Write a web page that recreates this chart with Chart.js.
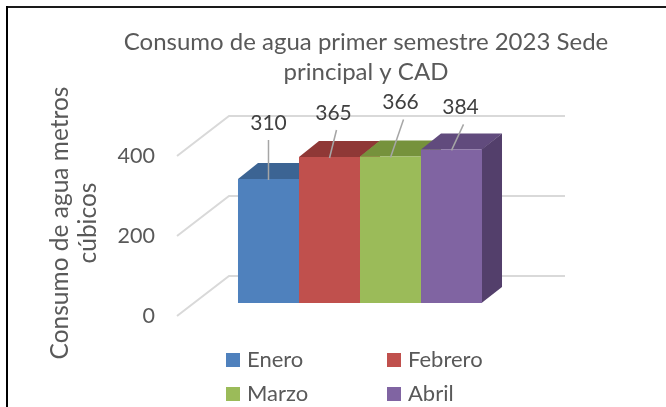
<!DOCTYPE html>
<html>
<head>
<meta charset="utf-8">
<script src="https://cdn.jsdelivr.net/npm/chart.js@4.4.0/dist/chart.umd.min.js"></script>
<style>
  html, body { margin: 0; padding: 0; background: #fff; }
  #wrap { width: 666px; height: 407px; }
</style>
</head>
<body>
<div id="wrap"><canvas id="grafico" width="666" height="407"></canvas></div>
<script>
const meses = ["Enero", "Febrero", "Marzo", "Abril"];
const consumo = [310, 365, 366, 384];
const ticksY = [0, 200, 400];
const titulo = ["Consumo de agua primer semestre 2023 Sede", "principal y CAD"];
const tituloEje = ["Consumo de agua metros", "cúbicos"];

// colores de cada cara del cubo
const frente = ["#4F81BD", "#C0504D", "#9BBB59", "#8064A2"];
const techo = ["#3C6493", "#8F3836", "#76923C", "#614B7D"];
const lado = ["#3A5E8A", "#8A3533", "#6F8A38", "#533F6B"];

// etiqueta de valor: desplazamiento desde la cara superior
const etiquetaDx = [0, 4, 10, 9];
const etiquetaDy = [56, 44, 54, 42];

const FUENTE = "Lato, 'Open Sans', sans-serif";
const GRIS = "#595959";
const PROF_X = 20, PROF_Y = 16; // profundidad de las barras

const paredes = {
  id: "paredes",
  beforeDraw(chart) {
    const ctx = chart.ctx;
    ctx.save();
    ctx.fillStyle = "#1a1a1a";
    ctx.fillRect(6, 6, 660, 2);
    ctx.fillStyle = "#000";
    ctx.fillRect(6, 6, 2, 401);
    // titulo centrado sobre el area del grafico 3D
    ctx.font = "24px " + FUENTE;
    ctx.fillStyle = GRIS;
    ctx.textAlign = "center";
    ctx.textBaseline = "middle";
    titulo.forEach((linea, i) => ctx.fillText(linea, 366, 42 + i * 30));
    ctx.restore();
  },
  beforeDatasetsDraw(chart) {
    const { ctx, chartArea: a, scales: { y } } = chart;
    ctx.save();
    // lineas de la pared del fondo y del lateral
    ctx.strokeStyle = "#D9D9D9";
    ctx.lineWidth = 2;
    ticksY.forEach((v) => {
      const yb = Math.round(y.getPixelForValue(v)) - 27;
      ctx.beginPath();
      ctx.moveTo(a.left - 17, yb + 40);
      ctx.lineTo(a.left + 35, yb);
      ctx.lineTo(a.right + 39, yb);
      ctx.stroke();
    });
    // techo y lado derecho de cada barra, el frente lo pinta Chart.js encima
    chart.data.datasets.forEach((ds, i) => {
      const bar = chart.getDatasetMeta(i).data[0];
      const l = bar.x - bar.width / 2, r = bar.x + bar.width / 2;
      const t = bar.y, b = bar.base;
      ctx.fillStyle = techo[i];
      ctx.beginPath();
      ctx.moveTo(l, t);
      ctx.lineTo(l + PROF_X, t - PROF_Y);
      ctx.lineTo(r + PROF_X, t - PROF_Y);
      ctx.lineTo(r, t);
      ctx.closePath();
      ctx.fill();
      ctx.fillStyle = lado[i];
      ctx.beginPath();
      ctx.moveTo(r - 0.5, t);
      ctx.lineTo(r + PROF_X, t - PROF_Y);
      ctx.lineTo(r + PROF_X, b - PROF_Y);
      ctx.lineTo(r - 0.5, b);
      ctx.closePath();
      ctx.fill();
    });
    ctx.restore();
  },
  afterDatasetsDraw(chart) {
    const ctx = chart.ctx;
    ctx.save();
    ctx.font = "21px " + FUENTE;
    ctx.textAlign = "center";
    ctx.textBaseline = "middle";
    chart.data.datasets.forEach((ds, i) => {
      const bar = chart.getDatasetMeta(i).data[0];
      const lx = bar.x + etiquetaDx[i];
      const ly = bar.y - etiquetaDy[i];
      ctx.strokeStyle = "#A6A6A6";
      ctx.lineWidth = 1.5;
      ctx.beginPath();
      ctx.moveTo(lx + (etiquetaDx[i] > 0 ? 3 : 0), ly + 17);
      ctx.lineTo(bar.x, bar.y + 1);
      ctx.stroke();
      ctx.fillStyle = "#404040";
      ctx.fillText(String(ds.data[0]), lx, ly);
    });
    ctx.restore();
  },
  afterDraw(chart) {
    // leyenda en dos columnas
    const ctx = chart.ctx;
    const colX = [226, 387];
    const filaY = [360, 394];
    ctx.save();
    ctx.font = "22px " + FUENTE;
    ctx.textBaseline = "middle";
    chart.data.datasets.forEach((ds, i) => {
      const x = colX[i % 2], yc = filaY[Math.floor(i / 2)];
      ctx.fillStyle = ds.backgroundColor;
      ctx.fillRect(x, yc - 7, 14, 14);
      ctx.fillStyle = GRIS;
      ctx.fillText(ds.label, x + 21, yc);
    });
    ctx.restore();
  }
};

new Chart(document.getElementById("grafico"), {
  type: "bar",
  data: {
    labels: ["Sede principal y CAD"],
    datasets: meses.map((m, i) => ({
      label: m,
      data: [consumo[i]],
      backgroundColor: frente[i],
      borderWidth: 0,
      categoryPercentage: 0.735,
      barPercentage: 1
    }))
  },
  options: {
    responsive: false,
    animation: false,
    layout: { padding: { left: 8, right: 140, top: 143, bottom: 104 } },
    plugins: {
      legend: { display: false },
      tooltip: { enabled: false },
      title: { display: false }
    },
    scales: {
      x: { display: false },
      y: {
        min: 0,
        max: 400,
        afterBuildTicks: (scale) => { scale.ticks = ticksY.map((v) => ({ value: v })); },
        afterFit: (scale) => { scale.width = 186; },
        border: { display: false },
        grid: { display: false, drawTicks: false },
        ticks: {
          color: GRIS,
          padding: 39,
          labelOffset: 13,
          font: { family: FUENTE, size: 21.5 }
        },
        title: {
          display: true,
          text: tituloEje,
          color: GRIS,
          font: { family: FUENTE, size: 24.5, lineHeight: 28 / 24.5 },
          padding: { top: 38, bottom: 0 }
        }
      }
    }
  },
  plugins: [paredes]
});
</script>
</body>
</html>
